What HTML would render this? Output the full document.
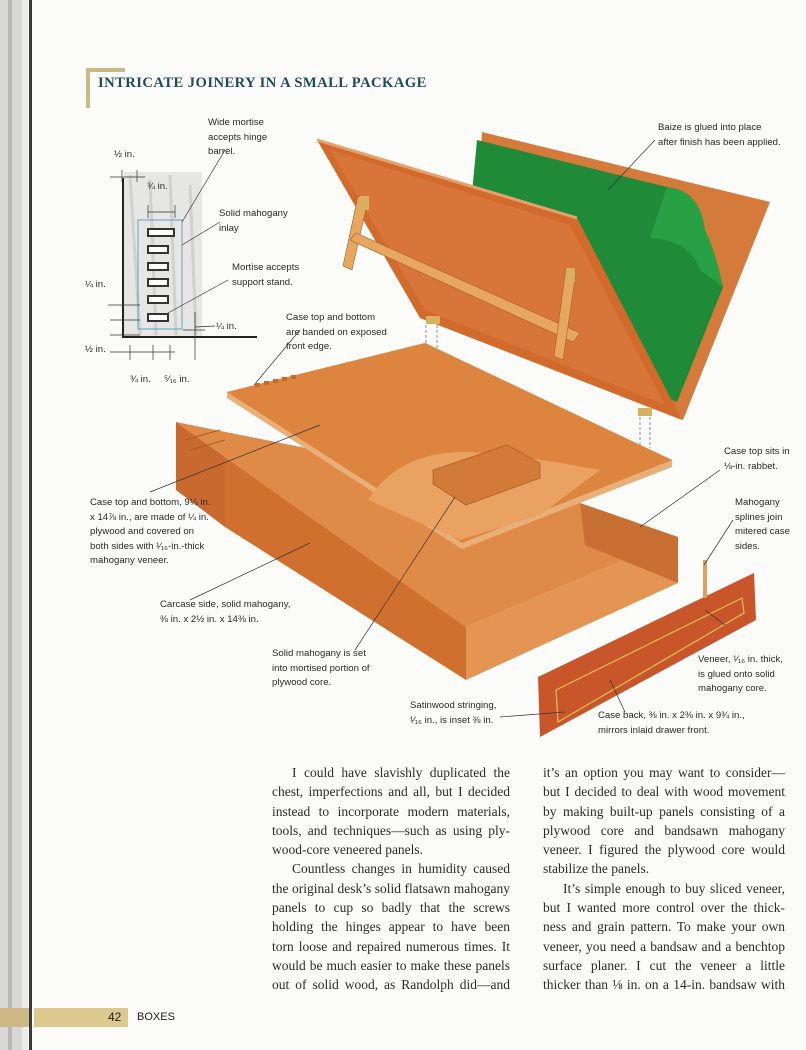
<!DOCTYPE html>
<html><head><meta charset="utf-8">
<style>
*{margin:0;padding:0}
body{width:806px;height:1050px;background:#fbfbfa;position:relative;overflow:hidden;font-family:"Liberation Sans",sans-serif}
svg{position:absolute;left:0;top:0}
.l{position:absolute;font-size:9.6px;line-height:14.5px;color:#2a2a2a;white-space:nowrap}
.t{position:absolute;font-family:"Liberation Serif",serif;font-size:13.5px;color:#2b2b2b}
.t div{height:19.3px;line-height:19.3px;text-align:justify;text-align-last:justify;white-space:nowrap}
.t div.e{text-align-last:left}
.t div.i{text-indent:20px}
</style></head><body>
<svg width="806" height="1050" viewBox="0 0 806 1050">
<rect x="0" y="0" width="22" height="1050" fill="#d8d8d6"/>
<rect x="8" y="0" width="4" height="1050" fill="#b8b8b6"/>
<rect x="22" y="0" width="6" height="1050" fill="#ececea"/>
<rect x="29" y="0" width="3" height="1050" fill="#3a3a3a"/>
<path d="M86 68 H125 V72 H90 V108 H86 Z" fill="#cbb982"/>
<rect x="124" y="172" width="78" height="164" fill="#e6e6e4"/>
<path d="M130 175 L140 335 M150 180 L156 335 M170 175 L176 335 M190 185 L196 335" stroke="#d0d0ce" stroke-width="3"/>
<path d="M123 178 V337 H257" stroke="#222" stroke-width="2" fill="none"/>
<rect x="138" y="220" width="44" height="109" fill="none" stroke="#5aa7b8" stroke-width="1"/>
<g fill="#fff" stroke="#333" stroke-width="2">
<rect x="148" y="229" width="26" height="7"/><rect x="148" y="246" width="20" height="7"/>
<rect x="148" y="263" width="20" height="7"/><rect x="148" y="279" width="20" height="7"/>
<rect x="148" y="296" width="20" height="7"/><rect x="148" y="314" width="20" height="7"/>
</g>
<g stroke="#333" stroke-width="0.7" fill="none">
<path d="M110 177 H145 M148 212 H175 M108 305 H140 M110 320 H140 M110 335 H140 M110 352 H175 M195 312 V360 M183 330 H205 M122 170 V182 M137 170 V182 M148 205 V218 M175 205 V218 M130 345 V360 M153 345 V360 M170 345 V360"/>
<path d="M182 222 L225 150 M182 245 L220 222 M168 313 L228 280 M195 327 L215 326 M254 385 L300 330"/>
</g>
<polygon points="482,132 770,202 683,420 470,330" fill="#d47a3a"/>
<polygon points="477,140 667,187 700,240 723,287 677,402 460,320" fill="#1f8a38"/>
<path d="M667 187 Q700 190 705 230 Q715 250 723,287 L700 270 Q690 240 650 238 Z" fill="#28a044"/>
<polygon points="317,140 577,218 682,420 420,318" fill="#d26a2c"/>
<polygon points="330,150 570,225 665,405 425,310" fill="#d8763a"/>
<path d="M317 140 L577 218" stroke="#e8a06a" stroke-width="3"/>
<g fill="#e8a760" stroke="#a0602a" stroke-width="0.6">
<polygon points="358,196 368,200 352,270 343,266"/>
<polygon points="350,240 356,233 580,333 573,342"/>
<polygon points="566,268 576,272 563,360 554,356"/>
</g>
<g fill="#d8b060"><rect x="360" y="196" width="9" height="14"/><rect x="566" y="268" width="9" height="14"/><rect x="426" y="316" width="14" height="8"/><rect x="638" y="408" width="14" height="8"/></g>
<path d="M426 325 V350 M437 325 V350 M640 417 V448 M650 417 V448" stroke="#777" stroke-width="0.8" stroke-dasharray="3,2"/>
<polygon points="176,422 580,503 678,537 466,627 225,457" fill="#e08a48"/>
<polygon points="176,422 225,457 225,527 176,490" fill="#c86a30"/>
<polygon points="225,457 466,627 466,680 225,527" fill="#d0702e"/>
<polygon points="466,627 678,537 678,583 466,680" fill="#e59553"/>
<polygon points="580,503 678,537 678,583 585,545" fill="#c87034"/>
<path d="M185 440 L220 430 M190 450 L225 440" stroke="#b05a20" stroke-width="1"/>
<polygon points="227,392 425,343 672,460 672,467 462,549 227,398" fill="#e8b078"/>
<polygon points="227,392 425,343 672,460 462,543" fill="#dd843e"/>
<path d="M368 500 Q400 450 470 452 Q520 455 600 470 L540 515 L460 540 Z" fill="#e9a262"/>
<g fill="#c86a30"><rect x="255" y="383" width="5" height="4"/><rect x="264" y="381" width="5" height="4"/><rect x="273" y="379" width="5" height="4"/><rect x="282" y="377" width="5" height="4"/><rect x="291" y="375" width="5" height="4"/></g>
<polygon points="433,470 507,445 540,463 540,478 466,505 433,484" fill="#d27a38" stroke="#9a5220" stroke-width="0.6"/>
<polygon points="538,677 754,573 756,620 540,737" fill="#c9562a"/>
<polygon points="556,690 742,598 744,613 558,722" fill="none" stroke="#e8c050" stroke-width="1.2"/>
<rect x="703" y="560" width="4" height="38" fill="#e0a060"/>
<g stroke="#333" stroke-width="0.7" fill="none">
<path d="M608 190 L655 140 M150 492 L320 425 M190 600 L310 543 M355 650 L455 497 M640 527 L720 470 M704 565 L733 520 M725 625 L705 610 M500 717 L565 712 M625 712 L610 680"/>
</g>
</svg>

<div style="position:absolute;left:98px;top:75px;font-family:'Liberation Serif',serif;font-weight:bold;font-size:14.6px;color:#1f4a5c;letter-spacing:0.45px;white-space:nowrap">INTRICATE JOINERY IN A SMALL PACKAGE</div>

<div class="l" style="left:208px;top:116px">Wide mortise<br>accepts hinge<br>barrel.</div>
<div class="l" style="left:114px;top:148px">½ in.</div>
<div class="l" style="left:147px;top:180px">¾ in.</div>
<div class="l" style="left:219px;top:207px">Solid mahogany<br>inlay</div>
<div class="l" style="left:232px;top:261px">Mortise accepts<br>support stand.</div>
<div class="l" style="left:85px;top:278px">¼ in.</div>
<div class="l" style="left:216px;top:320px">¼ in.</div>
<div class="l" style="left:85px;top:343px">½ in.</div>
<div class="l" style="left:130px;top:373px">¾ in.</div>
<div class="l" style="left:164px;top:373px">⁵⁄₁₆ in.</div>
<div class="l" style="left:286px;top:311px">Case top and bottom<br>are banded on exposed<br>front edge.</div>
<div class="l" style="left:658px;top:121px">Baize is glued into place<br>after finish has been applied.</div>
<div class="l" style="left:724px;top:445px">Case top sits in<br>⅛-in. rabbet.</div>
<div class="l" style="left:90px;top:496px">Case top and bottom, 9¼ in.<br>x 14⅞ in., are made of ¼ in.<br>plywood and covered on<br>both sides with ¹⁄₁₆-in.-thick<br>mahogany veneer.</div>
<div class="l" style="left:735px;top:496px">Mahogany<br>splines join<br>mitered case<br>sides.</div>
<div class="l" style="left:160px;top:598px">Carcase side, solid mahogany,<br>⅜ in. x 2½ in. x 14⅜ in.</div>
<div class="l" style="left:272px;top:647px">Solid mahogany is set<br>into mortised portion of<br>plywood core.</div>
<div class="l" style="left:698px;top:653px">Veneer, ¹⁄₁₆ in. thick,<br>is glued onto solid<br>mahogany core.</div>
<div class="l" style="left:410px;top:699px">Satinwood stringing,<br>¹⁄₁₆ in., is inset ⅜ in.</div>
<div class="l" style="left:598px;top:709px">Case back, ⅜ in. x 2⅜ in. x 9¾ in.,<br>mirrors inlaid drawer front.</div>

<div class="t" style="left:272px;top:763px;width:238px">
<div class="i">I could have slavishly duplicated the</div>
<div>chest, imperfections and all, but I decided</div>
<div>instead to incorporate modern materials,</div>
<div>tools, and techniques—such as using ply-</div>
<div class="e">wood-core veneered panels.</div>
<div class="i">Countless changes in humidity caused</div>
<div>the original desk’s solid flatsawn mahogany</div>
<div>panels to cup so badly that the screws</div>
<div>holding the hinges appear to have been</div>
<div>torn loose and repaired numerous times. It</div>
<div>would be much easier to make these panels</div>
<div>out of solid wood, as Randolph did—and</div>
</div>
<div class="t" style="left:543px;top:763px;width:242px">
<div>it’s an option you may want to consider—</div>
<div>but I decided to deal with wood movement</div>
<div>by making built-up panels consisting of a</div>
<div>plywood core and bandsawn mahogany</div>
<div>veneer. I figured the plywood core would</div>
<div class="e">stabilize the panels.</div>
<div class="i">It’s simple enough to buy sliced veneer,</div>
<div>but I wanted more control over the thick-</div>
<div>ness and grain pattern. To make your own</div>
<div>veneer, you need a bandsaw and a benchtop</div>
<div>surface planer. I cut the veneer a little</div>
<div>thicker than ⅛ in. on a 14-in. bandsaw with</div>
</div>

<div style="position:absolute;left:34px;top:1008px;width:94px;height:19px;background:#ddc98f"></div>
<div style="position:absolute;left:0;top:1008px;width:29px;height:19px;background:#cdb985"></div>
<div style="position:absolute;left:108px;top:1010px;font-size:12px;color:#222">42</div>
<div style="position:absolute;left:137px;top:1011px;font-size:11px;color:#222">BOXES</div>
</body></html>
